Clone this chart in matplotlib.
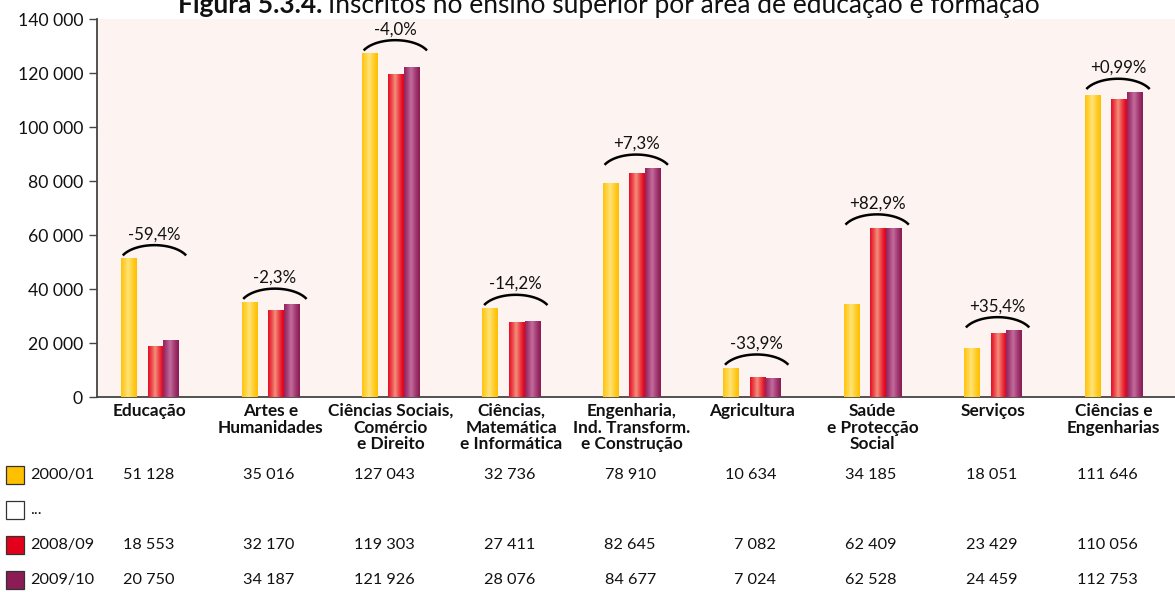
import numpy as np
import matplotlib
matplotlib.use("Agg")
import matplotlib.pyplot as plt
from matplotlib.colors import to_rgb
from matplotlib.patches import Rectangle
from matplotlib.transforms import blended_transform_factory

plt.rcParams['font.family'] = ['Lato', 'DejaVu Sans']

# ---- data -------------------------------------------------------------
categories = [
    "Educação",
    "Artes e\nHumanidades",
    "Ciências Sociais,\nComércio\ne Direito",
    "Ciências,\nMatemática\ne Informática",
    "Engenharia,\nInd. Transform.\ne Construção",
    "Agricultura",
    "Saúde\ne Protecção\nSocial",
    "Serviços",
    "Ciências e\nEngenharias",
]
years = ["2000/01", "...", "2008/09", "2009/10"]
v2000 = [51128, 35016, 127043, 32736, 78910, 10634, 34185, 18051, 111646]
v2008 = [18553, 32170, 119303, 27411, 82645, 7082, 62409, 23429, 110056]
v2009 = [20750, 34187, 121926, 28076, 84677, 7024, 62528, 24459, 112753]
changes = ["-59,4%", "-2,3%", "-4,0%", "-14,2%", "+7,3%",
           "-33,9%", "+82,9%", "+35,4%", "+0,99%"]
yticks = [0, 20000, 40000, 60000, 80000, 100000, 120000, 140000]

# ---- styling ----------------------------------------------------------
edge_cols = ["#FFC000", "#E3001B", "#8C1C56"]
light_cols = ["#FFE47A", "#F4907C", "#C46C9E"]
legend_cols = ["#FFC000", "#FFFFFF", "#E3001B", "#8C1C56"]
offsets = [-0.175, 0.045, 0.175]
bar_w = 0.13
bg = "#FDF3F0"
fs_table = 11.7
fs_tick = 12.7
fs_pct = 12.2
fs_cat = 12.4
fs_title = 19


def fmt(v):
    return f"{v:,}".replace(",", " ")


fig = plt.figure(figsize=(11.75, 5.92), dpi=100)
ax = fig.add_axes([97 / 1175, 1 - 397 / 592, 1 - 97 / 1175, (397 - 19) / 592])
ax.set_facecolor(bg)

x = np.arange(len(categories))
series = [v2000, v2008, v2009]

# shaded bars: flat base plus a horizontal highlight strip
t = np.linspace(0, 1, 64)
prof = np.clip(1 - np.abs(t - 0.45) / 0.55, 0, 1) ** 1.3
for vals, off, ec, lc in zip(series, offsets, edge_cols, light_cols):
    e = np.array(to_rgb(ec))
    l = np.array(to_rgb(lc))
    grad = (e[None, :] * (1 - prof[:, None]) + l[None, :] * prof[:, None])[None, :, :]
    bars = ax.bar(x + off, vals, width=bar_w, color=ec, zorder=2)
    for b in bars:
        x0 = b.get_x()
        ax.imshow(grad, extent=(x0, x0 + b.get_width(), 0, b.get_height()),
                  aspect="auto", interpolation="bilinear", zorder=3)

# arcs with the change between first and last year
for i, lab in enumerate(changes):
    top = max(v2000[i], v2008[i], v2009[i])
    base = top + 1300
    a, b = 0.29, 6600
    th = np.linspace(np.radians(25), np.radians(155), 60)
    cx = i + 0.037
    cy = base - b * np.sin(np.radians(25))
    ax.plot(cx + a * np.cos(th), cy + b * np.sin(th), color="black", lw=1.8,
            solid_capstyle="butt", zorder=4)
    ax.annotate(lab, xy=(cx, cy + b), xytext=(0, 2), textcoords="offset points",
                ha="center", va="bottom", fontsize=fs_pct, color="#111111")

ax.set_xlim(-0.44, 8.51)
ax.set_ylim(0, 140000)
ax.set_yticks(yticks)
ax.set_yticklabels([fmt(v) for v in yticks], fontsize=fs_tick)
ax.set_xticks([])
ax.tick_params(axis="y", length=6, width=1, color="#444444", pad=4, labelcolor="#111111")
for s in ("top", "right"):
    ax.spines[s].set_visible(False)
for s in ("left", "bottom"):
    ax.spines[s].set_color("#444444")
    ax.spines[s].set_linewidth(1.3)

# category names under the axis
trans = blended_transform_factory(ax.transData, fig.transFigure)
for i, c in enumerate(categories):
    ax.text(i, 1 - 403 / 592, c, transform=trans, ha="center", va="top",
            fontsize=fs_cat, fontweight="bold", linespacing=1.05, color="#111111")

# data table with legend keys
row_y = [475, 510, 545, 580]
rows = [v2000, None, v2008, v2009]
for ry, yl, col, vals in zip(row_y, years, legend_cols, rows):
    yf = 1 - ry / 592
    fig.patches.append(Rectangle((6 / 1175, 1 - (ry + 9) / 592), 18 / 1175, 18 / 592,
                                 transform=fig.transFigure, facecolor=col,
                                 edgecolor="#333333", lw=0.9))
    fig.text(30 / 1175, yf, yl, ha="left", va="center", fontsize=fs_table, color="#111111")
    if vals is not None:
        for i, v in enumerate(vals):
            ax.text(i + 0.2, yf, fmt(v), transform=trans, ha="right", va="center",
                    fontsize=fs_table, color="#111111")

# title: bold figure number followed by regular text
title_y = 1 - 13 / 592
t1 = fig.text(178 / 1175, title_y, "Figura 5.3.4.", fontsize=fs_title, fontweight="bold",
              ha="left", va="baseline", color="#111111")
fig.canvas.draw()
bb = t1.get_window_extent()
fig.text((bb.x1 + 6) / fig.bbox.width, title_y,
         "Inscritos no ensino superior por área de educação e formação",
         fontsize=fs_title, ha="left", va="baseline", color="#111111")

fig.savefig("out.png", dpi=100, facecolor="white")
